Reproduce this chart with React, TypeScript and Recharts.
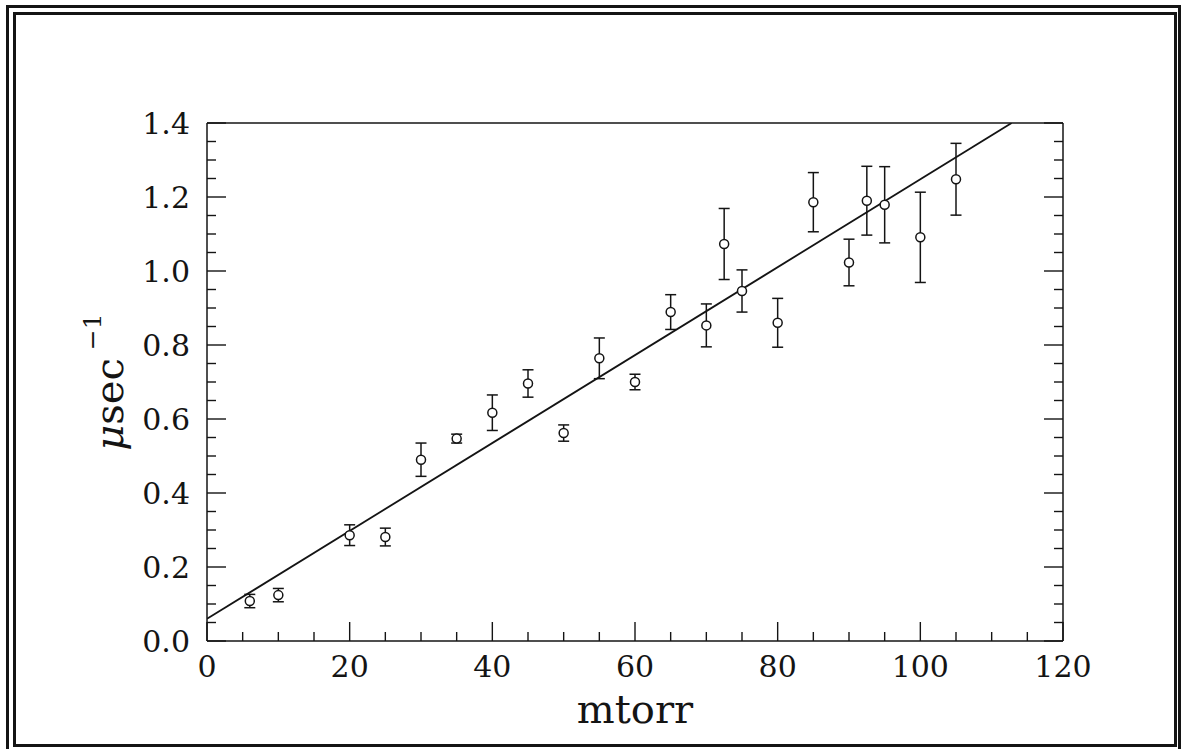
import React from 'react'
import {
  ComposedChart,
  Line,
  Scatter,
  ErrorBar,
  XAxis,
  YAxis,
} from 'recharts'

// measured points: pressure (mtorr), rate (1/usec), error bar half-height
const pressure = [6, 10, 20, 25, 30, 35, 40, 45, 50, 55, 60, 65, 70, 72.5, 75, 80, 85, 90, 92.5, 95, 100, 105]
const rate = [0.108, 0.124, 0.286, 0.281, 0.49, 0.547, 0.617, 0.696, 0.562, 0.764, 0.7, 0.889, 0.853, 1.073, 0.946, 0.86, 1.186, 1.023, 1.19, 1.179, 1.091, 1.248]
const rateErr = [0.018, 0.018, 0.028, 0.024, 0.045, 0.012, 0.048, 0.037, 0.022, 0.055, 0.021, 0.047, 0.058, 0.096, 0.057, 0.066, 0.08, 0.063, 0.093, 0.103, 0.122, 0.097]

// fitted line end points
const fitX = [0, 112.8]
const fitY = [0.06, 1.4]

const xMajor = [0, 20, 40, 60, 80, 100, 120]
const xTicks = [0, 5, 10, 15, 20, 25, 30, 35, 40, 45, 50, 55, 60, 65, 70, 75, 80, 85, 90, 95, 100, 105, 110, 115, 120]
const yMajor = [0, 0.2, 0.4, 0.6, 0.8, 1.0, 1.2, 1.4]
const yTicks = [
  0, 0.05, 0.1, 0.15, 0.2, 0.25, 0.3, 0.35, 0.4, 0.45, 0.5, 0.55, 0.6, 0.65, 0.7,
  0.75, 0.8, 0.85, 0.9, 0.95, 1.0, 1.05, 1.1, 1.15, 1.2, 1.25, 1.3, 1.35, 1.4,
]

const points = pressure.map((x, i) => ({ x, y: rate[i], err: rateErr[i] }))
const fitLine = fitX.map((x, i) => ({ x, y: fitY[i] }))

const INK = '#141414'
const FONT = '"DejaVu Serif", "Liberation Serif", serif'
const MAJOR = 19
const MINOR = 9

const isMajorX = (v: number) => xMajor.includes(v)
const isMajorY = (v: number) => yMajor.some((m) => Math.abs(m - v) < 1e-6)

const BottomTick = (props: any) => {
  const { x, y, payload } = props
  const major = isMajorX(payload.value)
  return (
    <g>
      <line x1={x} y1={y} x2={x} y2={y - (major ? MAJOR : MINOR)} stroke={INK} strokeWidth={1.4} />
      {major && (
        <text x={x} y={y + 36} textAnchor="middle" fontFamily={FONT} fontSize={30} fill={INK}>
          {payload.value}
        </text>
      )}
    </g>
  )
}

const TopTick = (props: any) => {
  const { x, y, payload } = props
  const major = isMajorX(payload.value)
  return <line x1={x} y1={y} x2={x} y2={y + (major ? MAJOR : MINOR)} stroke={INK} strokeWidth={1.4} />
}

const LeftTick = (props: any) => {
  const { x, y, payload } = props
  const major = isMajorY(payload.value)
  return (
    <g>
      <line x1={x} y1={y} x2={x + (major ? MAJOR : MINOR)} y2={y} stroke={INK} strokeWidth={1.4} />
      {major && (
        <text x={x - 17} y={y + 11} textAnchor="end" fontFamily={FONT} fontSize={30} fill={INK}>
          {payload.value.toFixed(1)}
        </text>
      )}
    </g>
  )
}

const RightTick = (props: any) => {
  const { x, y, payload } = props
  const major = isMajorY(payload.value)
  return <line x1={x} y1={y} x2={x - (major ? MAJOR : MINOR)} y2={y} stroke={INK} strokeWidth={1.4} />
}

const OpenCircle = (props: any) => {
  const { cx, cy } = props
  return <circle cx={cx} cy={cy} r={4.5} fill="#fff" stroke={INK} strokeWidth={1.5} />
}

const XTitle = (props: any) => {
  const vb = props.viewBox
  return (
    <text x={vb.x + vb.width / 2} y={vb.y + 82} textAnchor="middle" fontFamily={FONT} fontSize={40} fill={INK}>
      mtorr
    </text>
  )
}

const YTitle = (props: any) => {
  const vb = props.viewBox
  const cy = vb.y + vb.height / 2
  const bx = 123
  return (
    <text
      x={bx}
      y={cy}
      transform={`rotate(-90, ${bx}, ${cy})`}
      textAnchor="middle"
      fontFamily={FONT}
      fontSize={40}
      fill={INK}
    >
      <tspan fontStyle="italic">μ</tspan>
      <tspan>sec</tspan>
      <tspan dx={8} dy={-22} fontSize={25}>−1</tspan>
    </text>
  )
}

export default function App() {
  return (
    <div style={{ position: 'absolute', left: 0, top: 0, width: 1182, height: 749, background: '#fff' }}>
      <div
        style={{
          position: 'absolute',
          left: 6,
          top: 5,
          width: 1175,
          height: 750,
          border: `3px solid ${INK}`,
          boxSizing: 'border-box',
        }}
      />
      <div
        style={{
          position: 'absolute',
          left: 13,
          top: 12,
          width: 1164,
          height: 735,
          border: `3px solid ${INK}`,
          boxSizing: 'border-box',
        }}
      />
      <div style={{ position: 'absolute', left: 0, top: 0 }}>
        <ComposedChart width={1182} height={749} margin={{ top: 103, right: 99, bottom: 48, left: 127 }}>
          <XAxis
            xAxisId="bottom"
            dataKey="x"
            type="number"
            domain={[0, 120]}
            ticks={xTicks}
            interval={0}
            allowDataOverflow
            height={60}
            tickSize={0}
            tickMargin={0}
            tick={BottomTick}
            axisLine={{ stroke: INK, strokeWidth: 1.5 }}
            label={{ content: XTitle }}
          />
          <XAxis
            xAxisId="top"
            orientation="top"
            type="number"
            domain={[0, 120]}
            ticks={xTicks}
            interval={0}
            allowDataOverflow
            height={20}
            tickSize={0}
            tickMargin={0}
            tick={TopTick}
            axisLine={{ stroke: INK, strokeWidth: 1.5 }}
          />
          <YAxis
            yAxisId="left"
            type="number"
            domain={[0, 1.4]}
            ticks={yTicks}
            interval={0}
            allowDataOverflow
            width={80}
            tickSize={0}
            tickMargin={0}
            tick={LeftTick}
            axisLine={{ stroke: INK, strokeWidth: 1.5 }}
            label={{ content: YTitle }}
          />
          <YAxis
            yAxisId="right"
            orientation="right"
            type="number"
            domain={[0, 1.4]}
            ticks={yTicks}
            interval={0}
            allowDataOverflow
            width={20}
            tickSize={0}
            tickMargin={0}
            tick={RightTick}
            axisLine={{ stroke: INK, strokeWidth: 1.5 }}
          />
          <Line
            data={fitLine}
            dataKey="y"
            xAxisId="bottom"
            yAxisId="left"
            type="linear"
            dot={false}
            activeDot={false}
            stroke={INK}
            strokeWidth={1.8}
            isAnimationActive={false}
          />
          <Scatter
            data={points}
            dataKey="y"
            xAxisId="bottom"
            yAxisId="left"
            shape={OpenCircle}
            isAnimationActive={false}
          >
            <ErrorBar dataKey="err" direction="y" width={5.5} stroke={INK} strokeWidth={1.5} isAnimationActive={false} />
          </Scatter>
        </ComposedChart>
      </div>
    </div>
  )
}
